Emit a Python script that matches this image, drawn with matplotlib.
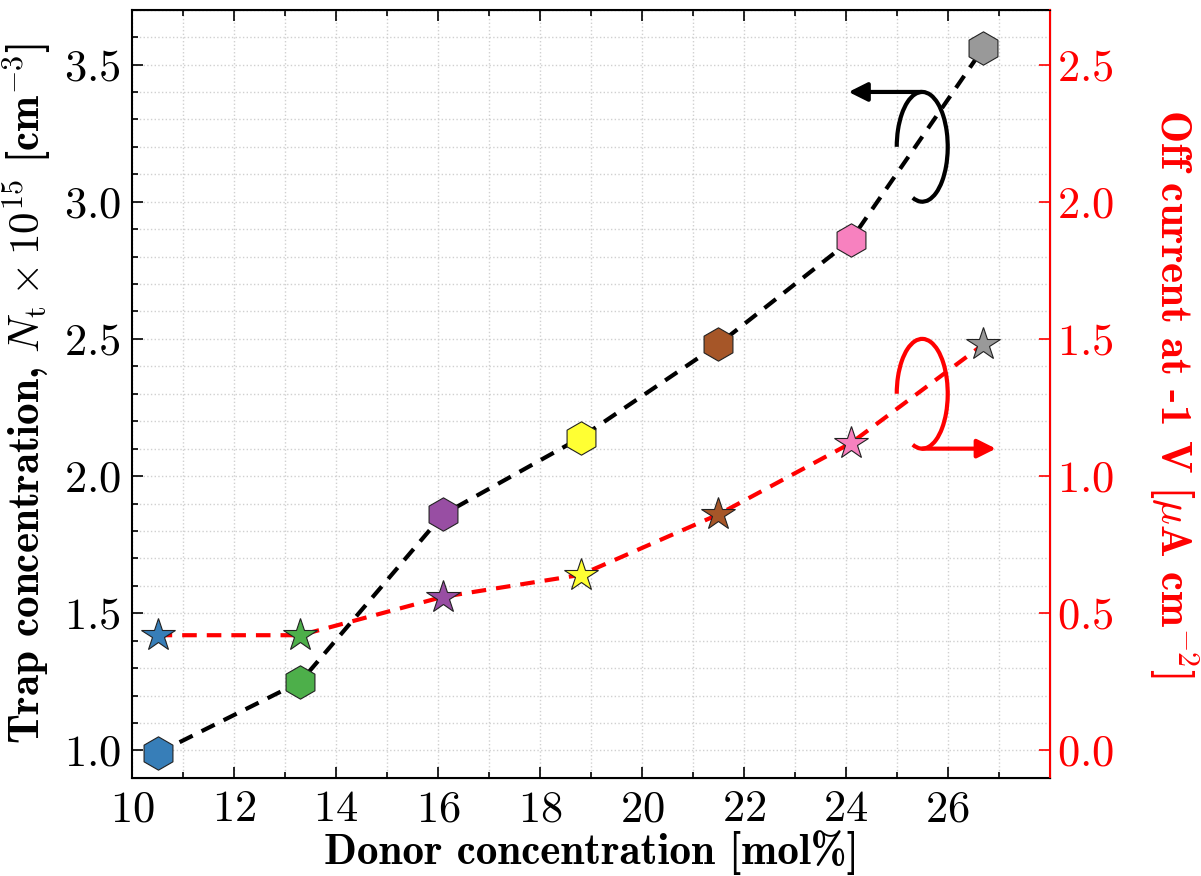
import numpy as np
from matplotlib import pyplot as plt
from matplotlib.patches import Arc
from matplotlib.ticker import MultipleLocator

plt.rcParams['font.family'] = 'cmr10'
plt.rcParams['mathtext.fontset'] = 'cm'
plt.rcParams['axes.unicode_minus'] = False
plt.rcParams['axes.formatter.use_mathtext'] = True

donor = [10.5, 13.3, 16.1, 18.8, 21.5, 24.1, 26.7]
trap = [0.99, 1.25, 1.86, 2.14, 2.48, 2.86, 3.56]
off_current = [0.42, 0.42, 0.56, 0.64, 0.86, 1.12, 1.48]
colors = ['#377eb8', '#4daf4a', '#984ea3', '#ffff33', '#a65628', '#f781bf', '#999999']

fig = plt.figure(figsize=(12.01, 8.76), dpi=100)
ax = fig.add_axes([0.110, 0.112, 0.764, 0.877])
ax2 = ax.twinx()

# trap concentration (left axis)
ax.plot(donor, trap, '--', color='black', lw=3, dashes=(3.5, 2.4), zorder=2)
for x, y, c in zip(donor, trap, colors):
    ax.plot(x, y, 'h', ms=24, mfc=c, mec='#222222', mew=0.8, zorder=3)

# off current (right axis)
ax2.plot(donor, off_current, '--', color='red', lw=3, dashes=(3.5, 2.4), zorder=2)
for x, y, c in zip(donor, off_current, colors):
    ax2.plot(x, y, '*', ms=25, mfc=c, mec='#222222', mew=0.8, zorder=3)

ax.set_xlim(10, 28)
ax.set_ylim(0.9, 3.7)
ax2.set_ylim(-0.1, 2.7)
ax.set_xticks(np.arange(10, 27, 2))
ax.xaxis.set_minor_locator(MultipleLocator(1))
ax.yaxis.set_major_locator(MultipleLocator(0.5))
ax.yaxis.set_minor_locator(MultipleLocator(0.1))
ax2.yaxis.set_major_locator(MultipleLocator(0.5))

ax.grid(True, which='both', ls=':', color='#d0d0d0', lw=1)
ax.tick_params(which='both', direction='in', top=True, labelsize=32, width=1.2)
ax.tick_params(which='major', length=8)
ax.tick_params(which='minor', length=4)
ax.tick_params(axis='x', pad=9)
ax.tick_params(axis='y', pad=8)
ax2.tick_params(direction='in', length=8, width=1.2, colors='red', labelsize=32, pad=5)
for s in ['left', 'bottom', 'top']:
    ax.spines[s].set_linewidth(1.5)
ax2.spines['right'].set_color('red')
ax2.spines['right'].set_linewidth(1.5)
ax2.spines['left'].set_visible(False)

ax.set_xlabel('Donor concentration [mol%]', fontsize=31, family='cmb10', labelpad=0)
ax.set_ylabel(r'Trap concentration, $N_\mathrm{t} \times 10^{15}$ [cm$^{-3}$]',
              fontsize=31, family='cmb10', labelpad=8)
ax2.set_ylabel(r'Off current at -1 V [$\mu$A cm$^{-2}$]', fontsize=31,
               family='cmb10', color='red', rotation=270, labelpad=62)

# circular arrows pointing at each axis
ax.add_patch(Arc((25.5, 3.2), 1.0, 0.4, theta1=225, theta2=180, color='black', lw=3, zorder=4))
ax.annotate('', xy=(24.0, 3.4), xytext=(25.55, 3.4),
            arrowprops=dict(arrowstyle='-|>', lw=3, color='black', mutation_scale=28))
ax2.add_patch(Arc((25.5, 1.3), 1.0, 0.4, theta1=225, theta2=180, color='red', lw=3, zorder=4))
ax2.annotate('', xy=(27.0, 1.1), xytext=(25.45, 1.1),
             arrowprops=dict(arrowstyle='-|>', lw=3, color='red', mutation_scale=28))

plt.savefig('out.png', dpi=100)
